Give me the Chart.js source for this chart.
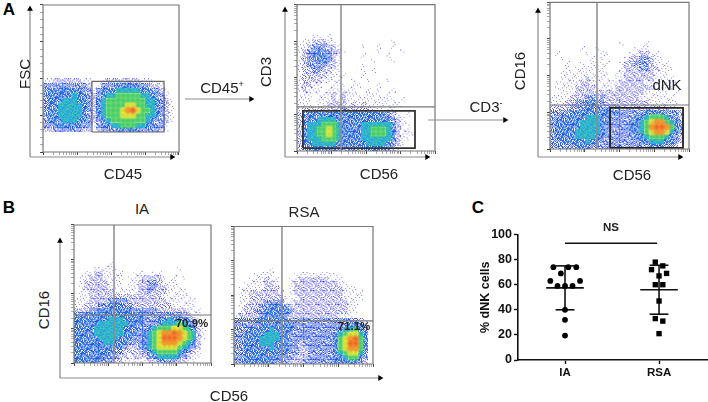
<!DOCTYPE html>
<html>
<head>
<meta charset="utf-8">
<style>
  body { margin: 0; background: #fff; width: 708px; height: 402px; overflow: hidden; position: relative; font-family: "Liberation Sans", Arial, sans-serif; color: #222; }
  canvas { position: absolute; }
  .t { position: absolute; transform: translate(-50%, -50%); white-space: nowrap; font-size: 15px; z-index: 5; }
  .r { transform: translate(-50%, -50%) rotate(-90deg); }
  .big { font-weight: bold; font-size: 17px; color: #000; }
  .pct { font-weight: bold; font-size: 11.5px; }
  sup { font-size: 9px; line-height: 0; }
</style>
</head>
<body>
<div class="t big" style="left:9px;top:10px">A</div>
<div class="t big" style="left:9px;top:208px">B</div>
<div class="t big" style="left:478px;top:208px">C</div>
<div class="t r" style="left:24px;top:74px">FSC</div>
<div class="t" style="left:123px;top:173px">CD45</div>
<div class="t" style="left:222px;top:87px">CD45<sup>+</sup></div>
<div class="t r" style="left:265px;top:72px">CD3</div>
<div class="t" style="left:379px;top:173px">CD56</div>
<div class="t" style="left:486px;top:106px">CD3<sup>-</sup></div>
<div class="t r" style="left:519px;top:71px">CD16</div>
<div class="t" style="left:632px;top:174px">CD56</div>
<div class="t" style="left:667px;top:84px">dNK</div>
<div class="t" style="left:142px;top:208px">IA</div>
<div class="t" style="left:304px;top:211px">RSA</div>
<div class="t r" style="left:43px;top:310px">CD16</div>
<div class="t" style="left:229px;top:395px">CD56</div>
<div class="t pct" style="left:192px;top:323px">70.9%</div>
<div class="t pct" style="left:354px;top:326px">71.1%</div>
<div class="t" style="left:611px;top:227px;font-weight:bold;font-size:11.5px">NS</div>

<canvas id="fsc"></canvas>
<canvas id="cd3"></canvas>
<canvas id="cd16"></canvas>
<canvas id="ia"></canvas>
<canvas id="rsa"></canvas>
<canvas id="pct"></canvas>

<script src="https://cdn.jsdelivr.net/npm/chart.js@4"></script>
<script>
// density, one string per row, last string is the bottom row
// 0 = nothing, 1-4 = blues, 5 = teal, 6 = green, 7 = yellow, 8 = orange, 9 = red
const densFsc = [
  "1122222211001222222211100000",
  "3333333332013334444433221000",
  "3444444433134445555544332100",
  "3444445443234556666655433100",
  "3444555443245666666665543210",
  "3445555543245666677665543210",
  "3445555543245666789766543210",
  "3445555543245666777665543210",
  "3444555443234566666665433210",
  "3344444433134455666554433100",
  "2233333322023334444433332100",
  "0000000000000000000000000000",
  "0000000000000000000000000000",
  "0000000000000000000000000000",
  "0000000000000000000000000000"
];
const densCd3 = [
  "0001101000000000000000000000",
  "0112221100000000000100000000",
  "1123332210000100100100000000",
  "1233433221000000100001000000",
  "1234443210000100001000000000",
  "1233443210000001000100000000",
  "1233332210000100000000000000",
  "1223322110000101000000000000",
  "1222221111000100000000000000",
  "1222211110010010001000000000",
  "1221100111011000100000000000",
  "1211101111110010100100000000",
  "1110111212111011101000000000",
  "1110111212111111111101000000",
  "1110112222121211111110000000",
  "1222222223222221111100000000",
  "2344444444444444443210100000",
  "2344555544444444444321000000",
  "2455566654444555555421100000",
  "2455667654444556665421100000",
  "2455667654444556665421110000",
  "2455566654444555555421100000",
  "2445555544444455554321000000",
  "2344444433333344443210000000"
];
const densCd16 = [
  "0000000000000010000100000000",
  "0000001001000000011100000000",
  "0100000100110000112211000000",
  "0010000010100001223321100000",
  "0001001011110012233321110000",
  "0001011111100012223322111000",
  "0011111111110112222221110000",
  "0011111211110112222221111000",
  "0111112211111122222111111100",
  "0111122221111222222221111000",
  "0011122222222222222111110100",
  "1111222332322222221111111000",
  "1112233443322222222211111100",
  "2222333444333322222222221100",
  "3333444444444433333444433320",
  "3344444555443333344566654320",
  "3444445555443333445678865430",
  "3444445555433333445689986430",
  "3444455555433333445678875430",
  "3444455554433333344566654320",
  "3344444544333333334455544320",
  "3333344433333333333344433200"
];
const densIa = [
  "0000000100000000000000000000",
  "0000111110000000000001000000",
  "0011221111001100110000000000",
  "0112221111011122221010100000",
  "0122222111011223321110000000",
  "0122222111011223322111000000",
  "0112222211111223222111100000",
  "0112222222222222221111110000",
  "1112222333322222222111111000",
  "1122233444332222222211111000",
  "2223344444443333322222211100",
  "3344444444444433333333221100",
  "4444444555444433344544432100",
  "4444455555544433345556543100",
  "4444555555444334566677654210",
  "4444555555444345678898765210",
  "4444455554443345679998765210",
  "4444445544433345678887654200",
  "4444444444322345677776543200",
  "4444444433222234566665432100",
  "4444444332212223455554321100",
  "4444433322111112233332211000"
];
const densRsa = [
  "0000000100000000000000000000",
  "0000111100001111111110000000",
  "0001112110011222222111000000",
  "0011112210012222222221100000",
  "0111112221012222222222111000",
  "0112222221012222222222111100",
  "0112222222111222222222111100",
  "0112223333112222222222211000",
  "0122233444322222222222211000",
  "0122334444432222222222211000",
  "1222234444322222222221110000",
  "3333444444433333333333333210",
  "3333344444443333333333344420",
  "3334444544443333333334556430",
  "3344445554433333333345677540",
  "3344455554433333333346789640",
  "3344455544433233333346799640",
  "3344444544433223333346788640",
  "3344444444433223333345677530",
  "3344444443332223333344566430",
  "3344444433322233333344444320"
];
const dotColorA = ["", "#5a5ae6", "#4a4ae8", "#3a3ae8", "#2a4ae6", "#2aa0e0", "#36c870", "#b8e030", "#f0a820", "#f05a20"];
const dotColorB = ["", "#8080ee", "#7070f0", "#2a6ae8", "#2a80e0", "#3cc8b8", "#50d060", "#e0e030", "#f08a20", "#ee7020"];
const levelFill = [0, 1, 3, 5, 7, 10, 10, 10, 10, 10];
// stipple masks for one density cell
const stipples = [
  ["37152", "90648", "26391", "74058", "15829"],
  ["81406", "25973", "60718", "49235", "73160"],
  ["46290", "13857", "92064", "58317", "07492"],
  ["62738", "04519", "87243", "31906", "59671"]
];

// log-ish tick positions along a frame side, in percent of the side
const logTicks = [0, 7.5, 12, 15, 17.5, 19.5, 21, 22.5, 23.8, 25, 32.5, 37, 40, 42.5, 44.5, 46, 47.5, 48.8, 50, 57.5, 62, 65, 67.5, 69.5, 71, 72.5, 73.8, 75, 82.5, 87, 90, 92.5, 94.5, 96, 97.5, 98.8, 100];
const linTicks = [0, 5, 10, 15, 20, 25, 30, 35, 40, 45, 50, 55, 60, 65, 70, 75, 80, 85, 90, 95, 100];
const majorTicks = [0, 25, 50, 75, 100];

// gates in percent of the frame: quadrant [x, y], box [x1, x2, y1, y2]
const gateFsc = [36, 89, 13.6, 48];
const quadCd3 = [31.9, 30.1];
const gateCd3 = [4.3, 85.5, 2, 27.4];
const quadCd16 = [33.8, 30];
const gateCd16 = [43.2, 95.7, 0.7, 28];
const quadIa = [29.2, 34.8];
const quadRsa = [34.5, 31.3];

// panel C
const categories = ["IA", "RSA"];
const iaX = [0.876, 1.035, 1.12, 0.956, 0.844, 1.16, 0.92, 1, 1.08, 1, 1, 1];
const iaY = [74, 74, 74, 69, 63, 63, 59, 59, 59, 40, 32, 19.5];
const rsaX = [1.96, 2.04, 1.92, 2.08, 2, 1.96, 2.04, 2, 1.96, 2.04, 2];
const rsaY = [78, 75, 72, 69, 67, 60, 60, 47, 33, 31, 21];
const means = [57.5, 56];
const upper = [75, 75.5];
const lower = [40, 36.5];
const nsLine = [1, 1.98, 93];
const pctTicks = [0, 20, 40, 60, 80, 100];

Chart.defaults.animation = false;
Chart.defaults.font.family = '"Liberation Sans", Arial, sans-serif';

// stippled tile for the thin levels
function stippleTile(level, mask) {
  const cv = document.createElement("canvas");
  cv.width = 5; cv.height = 5;
  const ctx = cv.getContext("2d");
  mask.forEach((row, py) => row.split("").forEach((d, px) => {
    if (+d < levelFill[level]) {
      ctx.fillStyle = +d % 2 ? dotColorA[level] : dotColorB[level];
      ctx.fillRect(px, py, 1, 1);
    }
  }));
  return cv;
}
// soft round tile for the dense levels, so the hot cores blend into each other
function softTile(level) {
  const cv = document.createElement("canvas");
  cv.width = 9; cv.height = 9;
  const ctx = cv.getContext("2d");
  const g = ctx.createRadialGradient(4.5, 4.5, 0, 4.5, 4.5, 4.5);
  g.addColorStop(0, dotColorA[level] + "ff");
  g.addColorStop(0.45, dotColorB[level] + "e6");
  g.addColorStop(1, dotColorB[level] + "00");
  ctx.fillStyle = g;
  ctx.fillRect(0, 0, 9, 9);
  return cv;
}
const sprites = levelFill.map((fill, level) => stipples.map(mask => level === 0 ? null : level < 6 ? stippleTile(level, mask) : softTile(level)));

const softCloud = {
  id: "softCloud",
  beforeDatasetDraw(chart, args) { if (args.index === 0) chart.ctx.filter = "blur(0.45px)"; },
  afterDatasetDraw(chart, args) { if (args.index === 0) chart.ctx.filter = "none"; }
};

function seg(points, color, width) {
  return { type: "line", data: points, borderColor: color, borderWidth: width, pointRadius: 0, clip: false, fill: false, tension: 0 };
}

// line that ends in a small black triangle
function arrow(points, rotation) {
  return {
    type: "line", data: points, borderColor: "#8a8a8a", borderWidth: 1.2, clip: false, tension: 0,
    pointStyle: "triangle", pointRadius: [0, 3.4], pointRotation: rotation,
    pointBackgroundColor: "#000", pointBorderWidth: 0
  };
}

function flowChart(id, canvasBox, frame, dens, yTicks, extras) {
  const cv = document.getElementById(id);
  const [cl, ct, cw, ch] = canvasBox;
  cv.style.left = cl + "px"; cv.style.top = ct + "px";
  cv.width = cw; cv.height = ch;
  cv.style.width = cw + "px"; cv.style.height = ch + "px";
  const [fl, ft, fr, fb] = frame;
  const px = x => (x - fl) / (fr - fl) * 100;
  const py = y => (fb - y) / (fb - ft) * 100;

  const cells = [];
  const rowH = 100 / 30, colW = 100 / 28;
  dens.forEach((row, r) => {
    const yIdx = dens.length - 1 - r;
    row.split("").forEach((ch, c) => {
      const level = +ch;
      if (level > 0) cells.push({ x: (c + 0.5) * colW, y: (yIdx + 0.5) * rowH, level, mask: (c * 3 + yIdx * 5) % stipples.length });
    });
  });
  cells.sort((a, b) => a.level - b.level); // hot cells on top

  const sets = [{
    type: "scatter", data: cells, order: 10, pointRadius: 3,
    pointStyle: c => sprites[c.raw.level][c.raw.mask]
  }];
  sets.push(seg([{ x: 0, y: 0 }, { x: 100, y: 0 }, { x: 100, y: 100 }, { x: 0, y: 100 }, { x: 0, y: 0 }], "#777", 1.2));
  extras(sets, px, py);

  new Chart(cv, {
    data: { datasets: sets },
    plugins: [softCloud],
    options: {
      responsive: false, events: [],
      layout: { padding: 0, autoPadding: false },
      plugins: { legend: { display: false }, tooltip: { enabled: false } },
      scales: {
        x: {
          type: "linear", position: { y: 0 },
          min: px(cl), max: px(cl + cw),
          afterBuildTicks: s => { s.ticks = logTicks.map(value => ({ value })); },
          afterFit: s => { s.height = 0; },
          ticks: { display: false, autoSkip: false },
          border: { display: false },
          grid: { drawOnChartArea: false, tickLength: 3, tickColor: c => majorTicks.includes(c.tick.value) ? "#444" : "#aaa" }
        },
        y: {
          type: "linear", position: { x: 0 },
          min: py(ct + ch), max: py(ct),
          afterBuildTicks: s => { s.ticks = yTicks.map(value => ({ value })); },
          afterFit: s => { s.width = 0; },
          ticks: { display: false, autoSkip: false },
          border: { display: false },
          grid: { drawOnChartArea: false, tickLength: 3, tickColor: c => majorTicks.includes(c.tick.value) ? "#444" : "#aaa" }
        }
      }
    }
  });
}

function quad(sets, q) {
  sets.push(seg([{ x: q[0], y: 0 }, { x: q[0], y: 100 }], "#8c8c8c", 1.5));
  sets.push(seg([{ x: 0, y: q[1] }, { x: 100, y: q[1] }], "#777", 1.2));
}
function box(sets, g, color, width) {
  sets.push(seg([{ x: g[0], y: g[2] }, { x: g[1], y: g[2] }, { x: g[1], y: g[3] }, { x: g[0], y: g[3] }, { x: g[0], y: g[2] }], color, width));
}

flowChart("fsc", [24, 0, 232, 165], [43, 5, 179, 152], densFsc, linTicks, (s, px, py) => {
  box(s, gateFsc, "#666", 1.2);
  s.push(arrow([{ x: px(30), y: py(157) }, { x: px(30), y: py(9) }], 0));
  s.push(arrow([{ x: px(30), y: py(157) }, { x: px(172), y: py(157) }], 90));
  s.push(arrow([{ x: px(185), y: py(99) }, { x: px(251), y: py(99) }], 90));
});
flowChart("cd3", [280, 0, 160, 165], [297, 4.7, 435, 151], densCd3, logTicks, (s, px, py) => {
  quad(s, quadCd3);
  box(s, gateCd3, "#333", 1.8);
  s.push(arrow([{ x: px(285), y: py(157) }, { x: px(285), y: py(10) }], 0));
  s.push(arrow([{ x: px(285), y: py(157) }, { x: px(427), y: py(157) }], 90));
});
flowChart("cd16", [425, 0, 283, 165], [550, 2.3, 689, 149], densCd16, logTicks, (s, px, py) => {
  quad(s, quadCd16);
  box(s, gateCd16, "#222", 1.8);
  s.push(arrow([{ x: px(538), y: py(157) }, { x: px(538), y: py(11) }], 0));
  s.push(arrow([{ x: px(538), y: py(157) }, { x: px(680), y: py(157) }], 90));
  s.push(arrow([{ x: px(428), y: py(120) }, { x: px(505), y: py(120) }], 90));
});
flowChart("ia", [55, 218, 335, 166], [74, 225, 211, 363], densIa, logTicks, (s, px, py) => {
  quad(s, quadIa);
  s.push(arrow([{ x: px(60), y: py(378) }, { x: px(60), y: py(241) }], 0));
  s.push(arrow([{ x: px(60), y: py(378) }, { x: px(380), y: py(378) }], 90));
});
flowChart("rsa", [228, 220, 150, 150], [234, 226.5, 373, 364], densRsa, logTicks, (s, px, py) => {
  quad(s, quadRsa);
});

// panel C
const pctCv = document.getElementById("pct");
pctCv.style.left = "478px"; pctCv.style.top = "225px";
pctCv.width = 230; pctCv.height = 177;
pctCv.style.width = "230px"; pctCv.style.height = "177px";

function errorBars() {
  const out = [];
  means.forEach((m, i) => {
    const c = i + 1;
    out.push(seg([{ x: c - 0.2, y: m }, { x: c + 0.2, y: m }], "#111", 1.6));
    out.push(seg([{ x: c, y: lower[i] }, { x: c, y: upper[i] }], "#111", 1.6));
    out.push(seg([{ x: c - 0.1, y: upper[i] }, { x: c + 0.1, y: upper[i] }], "#111", 1.6));
    out.push(seg([{ x: c - 0.1, y: lower[i] }, { x: c + 0.1, y: lower[i] }], "#111", 1.6));
  });
  return out;
}

new Chart(pctCv, {
  data: {
    datasets: [
      { type: "scatter", data: iaX.map((x, i) => ({ x, y: iaY[i] })), pointStyle: "circle", pointRadius: 2.9, pointBackgroundColor: "#000", pointBorderWidth: 0, clip: false },
      { type: "scatter", data: rsaX.map((x, i) => ({ x, y: rsaY[i] })), pointStyle: "rect", pointRadius: 3.8, pointBackgroundColor: "#000", pointBorderWidth: 0, clip: false },
      ...errorBars(),
      seg([{ x: nsLine[0], y: nsLine[2] }, { x: nsLine[1], y: nsLine[2] }], "#111", 1.6)
    ]
  },
  options: {
    responsive: false, events: [],
    layout: { padding: { top: 6, right: 1 }, autoPadding: false },
    plugins: { legend: { display: false }, tooltip: { enabled: false } },
    scales: {
      x: {
        type: "linear", min: 0.5, max: 2.51,
        afterBuildTicks: s => { s.ticks = categories.map((c, i) => ({ value: i + 1 })); },
        afterFit: s => { s.height = 42; },
        ticks: { autoSkip: false, maxRotation: 0, color: "#111", font: { size: 11.5, weight: "bold" }, padding: 2, callback: v => categories[v - 1] },
        border: { color: "#111", width: 1.6 },
        grid: { drawOnChartArea: false, tickLength: 4, tickColor: "#111", tickWidth: 1.4 }
      },
      y: {
        type: "linear", min: 0, max: 100,
        afterBuildTicks: s => { s.ticks = pctTicks.map(value => ({ value })); },
        afterFit: s => { s.width = 40; },
        ticks: { color: "#111", font: { size: 12.5, weight: "bold" }, padding: 2 },
        title: { display: true, text: "% dNK cells", color: "#111", font: { size: 12.5, weight: "bold" }, padding: { top: 0, bottom: 0 } },
        border: { color: "#111", width: 1.6 },
        grid: { drawOnChartArea: false, tickLength: 4, tickColor: "#111", tickWidth: 1.4 }
      }
    }
  }
});
</script>
</body>
</html>
